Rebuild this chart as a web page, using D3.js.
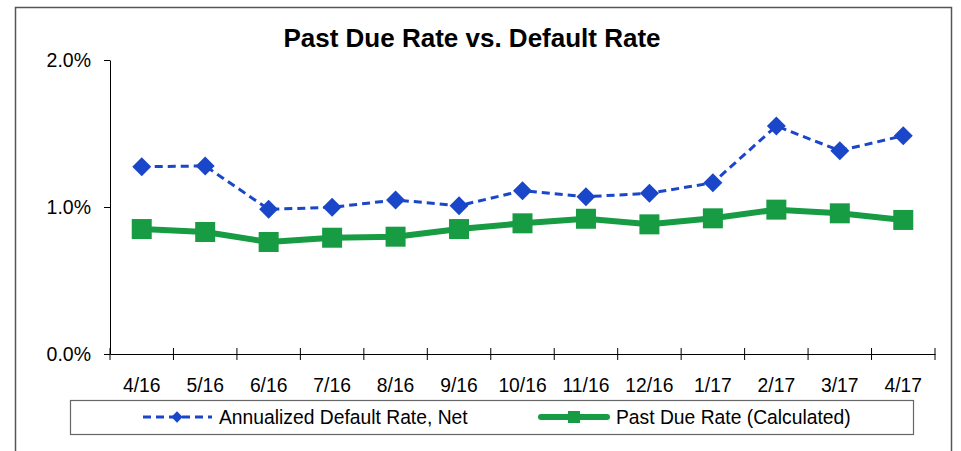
<!DOCTYPE html>
<html>
<head>
<meta charset="utf-8">
<script src="https://cdn.jsdelivr.net/npm/d3@7"></script>
<style>
  body { margin: 0; background: #fff; }
  text { font-family: "Liberation Sans", Arial, sans-serif; fill: #000; }
</style>
</head>
<body>
<svg id="chart" width="961" height="451"></svg>
<script>
// chart data
var months = ['4/16', '5/16', '6/16', '7/16', '8/16', '9/16', '10/16', '11/16', '12/16', '1/17', '2/17', '3/17', '4/17'];
var defaultRate = [0.01274, 0.01279, 0.00984, 0.00998, 0.01048, 0.01009, 0.01111, 0.01070, 0.01093, 0.01165, 0.01551, 0.01383, 0.01485];
var pastDueRate = [0.00850, 0.00830, 0.00762, 0.00791, 0.00798, 0.00850, 0.00889, 0.00920, 0.00882, 0.00923, 0.00982, 0.00957, 0.00912];
var yTicks = [0, 0.01, 0.02];
var seriesNames = ['Annualized Default Rate, Net', 'Past Due Rate (Calculated)'];

var blue = '#1a46c9';
var green = '#179c43';

var svg = d3.select('#chart');

// outer frame
svg.append('rect')
    .attr('x', 15.5).attr('y', 7.5)
    .attr('width', 936).attr('height', 460)
    .attr('fill', 'none')
    .attr('stroke', '#555')
    .attr('stroke-width', 1.5);

// title
svg.append('text')
    .attr('x', 472).attr('y', 46.5)
    .attr('text-anchor', 'middle')
    .style('font-size', '26px')
    .style('font-weight', 'bold')
    .text('Past Due Rate vs. Default Rate');

var x = d3.scaleBand().domain(months).range([110, 935]).padding(0);
var y = d3.scaleLinear().domain([0, 0.02]).range([354, 60]);
var cx = function(d, i) { return x(months[i]) + x.bandwidth() / 2; };

// y axis with crossing ticks
var yAxis = d3.axisLeft(y).tickValues(yTicks).tickSize(6).tickSizeOuter(0)
    .tickFormat(d3.format('.1%'));
var yG = svg.append('g').attr('transform', 'translate(110,0)').call(yAxis);
yG.select('.domain').attr('stroke', '#000');
yG.selectAll('.tick line').attr('x1', 0).attr('x2', -6).attr('stroke', '#000');
yG.selectAll('.tick text')
    .attr('x', -19).attr('dy', '0.35em')
    .style('font-size', '19.5px')
    .style('font-family', '"Liberation Sans", Arial, sans-serif');

// x axis, ticks on the category boundaries
var xAxis = d3.axisBottom(x).tickSize(0).tickSizeOuter(0);
var xG = svg.append('g').attr('transform', 'translate(0,354)').call(xAxis);
xG.select('.domain').attr('stroke', '#000');
xG.selectAll('.tick text')
    .attr('y', 24).attr('dy', '0.71em')
    .style('font-size', '19.3px')
    .style('font-family', '"Liberation Sans", Arial, sans-serif');
var bounds = months.map(function(m) { return x(m); }).concat([x.range()[1]]);
xG.selectAll('.bound').data(bounds).enter().append('line')
    .attr('class', 'bound')
    .attr('x1', function(d) { return d; }).attr('x2', function(d) { return d; })
    .attr('y1', -6).attr('y2', 6)
    .attr('stroke', '#000');

// past due rate line
var line = d3.line().x(cx).y(function(d) { return y(d); });

svg.append('path')
    .datum(pastDueRate)
    .attr('d', line)
    .attr('fill', 'none')
    .attr('stroke', green)
    .attr('stroke-width', 6)
    .attr('stroke-linejoin', 'round');

svg.selectAll('.pd').data(pastDueRate).enter().append('rect')
    .attr('class', 'pd')
    .attr('x', function(d, i) { return cx(d, i) - 10; })
    .attr('y', function(d) { return y(d) - 10; })
    .attr('width', 20).attr('height', 20)
    .attr('fill', green);

// default rate line
svg.append('path')
    .datum(defaultRate)
    .attr('d', line)
    .attr('fill', 'none')
    .attr('stroke', blue)
    .attr('stroke-width', 3)
    .attr('stroke-dasharray', '8,5');

var diamond = d3.symbol().type(d3.symbolSquare).size(180);
svg.selectAll('.dr').data(defaultRate).enter().append('path')
    .attr('class', 'dr')
    .attr('d', diamond)
    .attr('transform', function(d, i) { return 'translate(' + cx(d, i) + ',' + y(d) + ') rotate(45)'; })
    .attr('fill', blue);

// legend
var legend = svg.append('g');
legend.append('rect')
    .attr('x', 70.5).attr('y', 400.5)
    .attr('width', 843).attr('height', 34)
    .attr('fill', '#fff')
    .attr('stroke', '#666')
    .attr('stroke-width', 1.2);

legend.append('line')
    .attr('x1', 143).attr('x2', 212).attr('y1', 417).attr('y2', 417)
    .attr('stroke', blue).attr('stroke-width', 3).attr('stroke-dasharray', '8,5');
legend.append('path')
    .attr('d', d3.symbol().type(d3.symbolSquare).size(64))
    .attr('transform', 'translate(177,417) rotate(45)')
    .attr('fill', blue);
legend.append('text')
    .attr('x', 219).attr('y', 423.5)
    .style('font-size', '19.3px')
    .text(seriesNames[0]);

legend.append('line')
    .attr('x1', 541).attr('x2', 607).attr('y1', 417).attr('y2', 417)
    .attr('stroke', green).attr('stroke-width', 6).attr('stroke-linecap', 'round');
legend.append('rect')
    .attr('x', 568).attr('y', 411).attr('width', 12).attr('height', 12)
    .attr('fill', green);
legend.append('text')
    .attr('x', 616).attr('y', 423.5)
    .style('font-size', '19.3px')
    .text(seriesNames[1]);
</script>
</body>
</html>
